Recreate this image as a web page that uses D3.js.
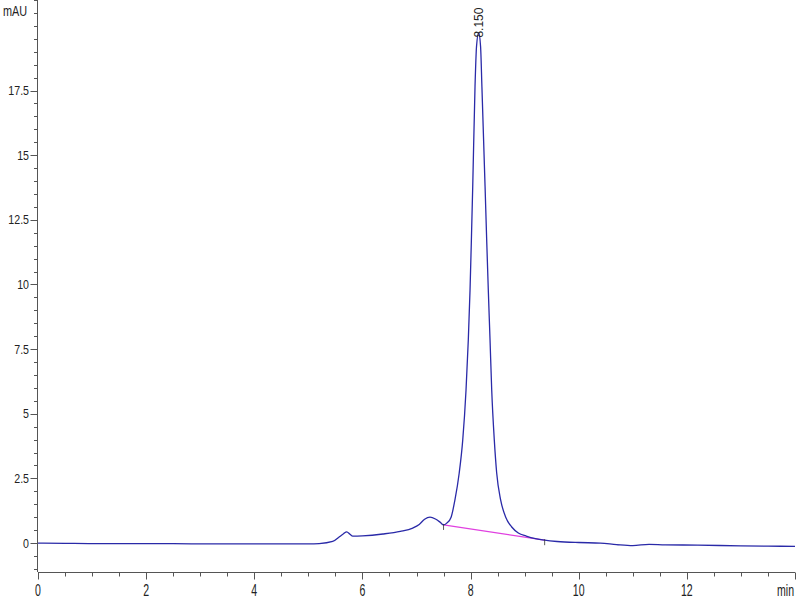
<!DOCTYPE html>
<html><head><meta charset="utf-8">
<script src="https://cdn.jsdelivr.net/npm/d3@7"></script>
<style>body{margin:0;background:#fff}svg{display:block}text{font-family:"Liberation Sans",Arial,sans-serif;fill:#222}</style>
</head><body><svg id="c" width="800" height="600"></svg>
<script>
// Retention time (min) and absorbance (mAU)
const times = [0,0.5,1,2,3,4,5,5.2,5.45,5.58,5.65,5.71,5.77,5.82,6.0,6.38,6.7,6.93,7.05,7.15,7.25,7.35,7.44,7.50,
  7.56,7.64,7.71,7.79,7.855,7.916,7.958,7.99,8.015,8.04,8.082,8.11,8.15,8.185,8.21,8.268,8.298,8.328,8.36,8.391,8.439,8.483,8.557,8.65,8.761,8.883,9.03,9.2,9.37,
  9.6,10.0,10.4,10.7,11.0,11.3,11.6,12.2,13.0,13.5,14.0];
const absorbance = [0,-0.01,-0.02,-0.02,-0.03,-0.03,-0.03,-0.02,0.06,0.25,0.36,0.43,0.34,0.27,0.28,0.35,0.45,0.58,0.72,0.92,1.0,0.93,0.80,0.70,
  0.77,1.0,1.66,2.71,3.98,5.92,7.85,9.78,11.72,13.8,17.63,19.2,19.74,19.2,17.63,13.8,11.72,9.78,7.85,5.92,3.98,2.71,1.66,1.0,0.62,0.39,0.27,0.17,0.11,
  0.06,0.02,0.0,-0.06,-0.1,-0.05,-0.07,-0.08,-0.11,-0.12,-0.13];
// integration baseline of the main peak
const baseTimes = [7.50, 9.37];
const baseValues = [0.70, 0.11];
const peakLabel = "8.150";
const peakTime = 8.15;
const yTickLabels = [0,2.5,5,7.5,10,12.5,15,17.5];
const xTickLabels = [0,2,4,6,8,10,12];

const svg = d3.select("#c");
const x = d3.scaleLinear().domain([0,14]).range([38,795]);
const y = d3.scaleLinear().domain([-1.12,21.0]).range([572,0]);
const axisColor = "#555";

// y axis
const yAxisX = 37.5;
svg.append("line").attr("x1",yAxisX).attr("x2",yAxisX).attr("y1",0).attr("y2",572).attr("stroke",axisColor);
const yMinor = d3.range(-1,21.01,0.5);
svg.selectAll(".ym").data(yMinor).join("line")
  .attr("x1",d=>yTickLabels.includes(d)?yAxisX-7:yAxisX-3.5).attr("x2",yAxisX)
  .attr("y1",d=>Math.round(y(d))+0.5).attr("y2",d=>Math.round(y(d))+0.5).attr("stroke",axisColor);
svg.selectAll(".yl").data(yTickLabels).join("text")
  .attr("transform",d=>`translate(29,${y(d)+4.5}) scale(0.85,1)`)
  .attr("text-anchor","end").attr("font-size","12.5px").text(d=>d);
svg.append("text").attr("transform","translate(3,16) scale(0.75,1)").attr("font-size","14.5px").text("mAU");

// x axis
const xAxisY = 572.5;
svg.append("line").attr("x1",38).attr("x2",795).attr("y1",xAxisY).attr("y2",xAxisY).attr("stroke",axisColor);
const xMinor = d3.range(0,14.01,0.5);
svg.selectAll(".xm").data(xMinor).join("line")
  .attr("x1",d=>Math.round(x(d))+0.5).attr("x2",d=>Math.round(x(d))+0.5)
  .attr("y1",xAxisY).attr("y2",d=>d%2===0?xAxisY+7:xAxisY+4).attr("stroke",axisColor);
svg.selectAll(".xl").data(xTickLabels).join("text")
  .attr("transform",d=>`translate(${x(d)},596) scale(0.66,1)`)
  .attr("text-anchor","middle").attr("font-size","16px").text(d=>d);
svg.append("text").attr("transform","translate(777,596) scale(0.66,1)").attr("font-size","16px").text("min");

// baseline of integration
svg.append("path").datum(d3.zip(baseTimes,baseValues))
  .attr("d",d3.line().x(d=>x(d[0])).y(d=>y(d[1])))
  .attr("stroke","#e040e0").attr("stroke-width",1.3).attr("fill","none");

// signal
svg.append("path").datum(d3.zip(times,absorbance))
  .attr("d",d3.line().x(d=>x(d[0])).y(d=>y(d[1])).curve(d3.curveMonotoneX))
  .attr("stroke","#2a2aa8").attr("stroke-width",1.3).attr("fill","none");

// integration markers
baseTimes.forEach((t,i)=>{
  svg.append("line").attr("x1",x(t)).attr("x2",x(t)).attr("y1",y(baseValues[i])-1).attr("y2",y(baseValues[i])+5)
    .attr("stroke","#333").attr("stroke-width",0.8);
});

// peak label
const peakMax = d3.max(absorbance);
svg.append("text").attr("transform",`translate(${x(peakTime)+4.5},${y(peakMax)+5}) rotate(-90)`)
  .attr("font-size","12px").text(peakLabel);
</script></body></html>
